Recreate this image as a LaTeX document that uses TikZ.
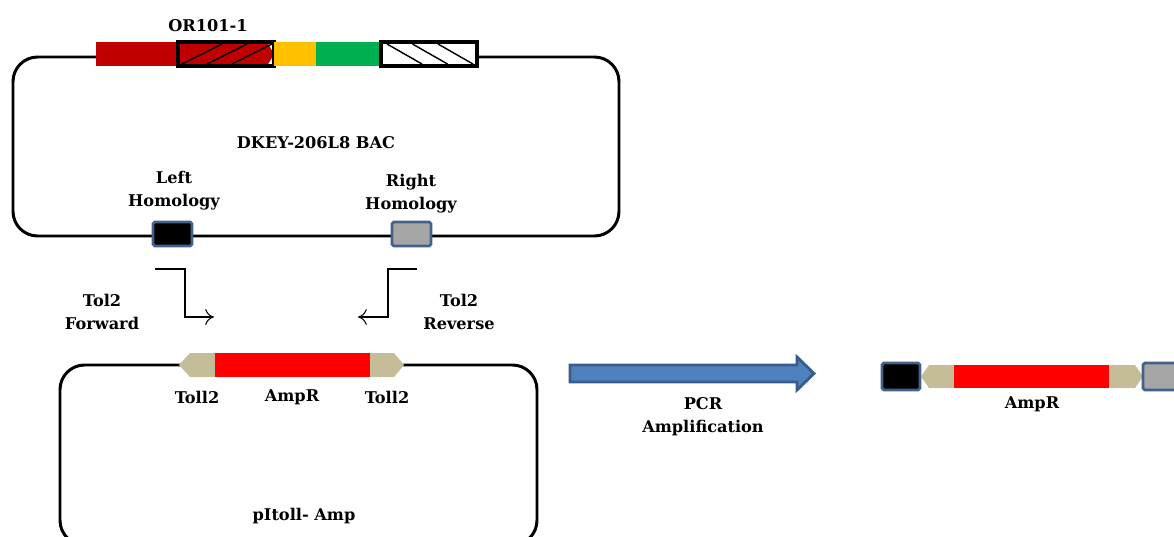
\documentclass[tikz,border=0pt]{standalone}
\usepackage{fontspec}
\setmainfont{DejaVu Serif}
\usetikzlibrary{arrows.meta,positioning}
\definecolor{darkred}{HTML}{C00000}
\definecolor{amber}{HTML}{FFC000}
\definecolor{leaf}{HTML}{00B050}
\definecolor{tolltan}{HTML}{C4BD97}
\definecolor{steel}{HTML}{41628A}
\definecolor{pcrblue}{HTML}{4F81BD}
\definecolor{pcredge}{HTML}{385D8A}
\definecolor{homgrey}{HTML}{A6A6A6}

\begin{document}
\begin{tikzpicture}[
  x=0.02cm, y=-0.02cm,
  lbl/.style={font=\bfseries\fontsize{9.2}{13}\selectfont, align=center, inner sep=0},
  plasmid/.style={line width=1.7pt, rounded corners=14pt},
  homol/.style={draw=steel, line width=1.6pt, rounded corners=1pt},
  frame/.style={draw=black, line width=1.8pt},
  hatch/.style={line width=0.8pt},
  primer/.style={line width=0.6pt, -{To[length=5pt,width=9pt]}},
  pcr/.style={fill=pcrblue, draw=pcredge, line width=1.6pt}
]
\useasboundingbox (0,0) rectangle (1174,537);
\clip (0,0) rectangle (1174,537);

% BAC
\draw[plasmid] (13,57) rectangle (619,236);
\fill[darkred] (96,42) rectangle (178,66);
\fill[darkred] (178,42) -- (267,42) -- (274,54) -- (267,66) -- (178,66) -- cycle;
\begin{scope}
  \clip (178,42) rectangle (274,66);
  \foreach \i in {0,1,2}
    \draw[hatch] (182+25*\i,64) -- (222+25*\i,44);
\end{scope}
\draw[frame] (178,42) rectangle (274,66);
\fill[amber] (274,42) rectangle (316,66);
\fill[leaf] (316,42) rectangle (381,66);
\fill[white] (381,42) rectangle (477,66);
\begin{scope}
  \clip (381,42) rectangle (477,66);
  \foreach \i in {0,1,2}
    \draw[hatch] (387+25.5*\i,44) -- (422+25.5*\i,64);
\end{scope}
\draw[frame] (381,42) rectangle (477,66);

\node[lbl] (orf) at (208,26) {OR101-1};
\node[lbl] (bac) at (316,143) {DKEY-206L8 BAC};
\node[lbl] (lefthom) at (174,191) {Left\\Homology};
\node[lbl] (righthom) at (411,194) {Right\\Homology};

\draw[homol, fill=black] (153,222) rectangle (192,246);
\draw[homol, fill=homgrey] (392,222) rectangle (431,246);

% primers
\coordinate (fwdA) at (155,269);
\coordinate (fwdK) at (185,269);
\coordinate (fwdB) at (214,317);
\coordinate (revA) at (417,269);
\coordinate (revK) at (388,269);
\coordinate (revB) at (358,317);
\draw[primer] (fwdA) -- (fwdK) |- (fwdB);
\draw[primer] (revA) -- (revK) |- (revB);
\node[lbl] (fwd) at (102,312) {Tol2\\Forward};
\node[lbl] (rev) at (459,312) {Tol2\\Reverse};

% pItoll- Amp
\draw[plasmid] (60,365) rectangle (537,545);
\fill[tolltan] (179,365) -- (190,353) -- (215,353) -- (215,377) -- (190,377) -- cycle;
\fill[red] (215,353) rectangle (370,377);
\fill[tolltan] (370,353) -- (394,353) -- (404,365) -- (394,377) -- (370,377) -- cycle;
\node[lbl] (tollL) at (197,397) {Toll2};
\node[lbl] (ampP) at (292,397) {AmpR};
\node[lbl] (tollR) at (387,397) {Toll2};
\node[lbl] (vec) at (304,516) {pItoll- Amp};

% PCR
\draw[pcr] (570,365) -- (797,365) -- (797,357) -- (814,373.5) -- (797,390)
  -- (797,382) -- (570,382) -- cycle;
\node[lbl] (pcrlbl) at (703,417) {PCR\\Amplification};

% product
\draw[homol, fill=black] (882,363) rectangle (920,390);
\fill[tolltan] (921,376.5) -- (929,365) -- (954,365) -- (954,388) -- (929,388) -- cycle;
\fill[red] (954,365) rectangle (1109,388);
\fill[tolltan] (1109,365) -- (1135,365) -- (1143,376.5) -- (1135,388) -- (1109,388) -- cycle;
\draw[homol, fill=homgrey] (1143,363) rectangle (1190,390);
\node[lbl] (ampL) at (1032,404) {AmpR};
\end{tikzpicture}
\end{document}
